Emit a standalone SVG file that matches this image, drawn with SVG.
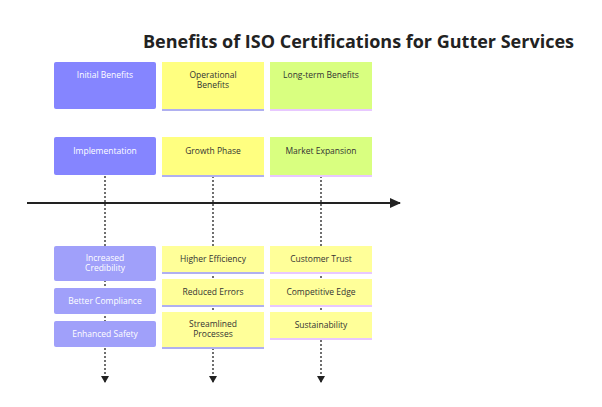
<svg xmlns="http://www.w3.org/2000/svg" width="602" height="407" viewBox="0 0 602 407">
<defs>
<style>
text{font-family:"Open Sans","DejaVu Sans",sans-serif;font-size:8.5px;text-anchor:middle}
.w{fill:#ffffff}.d{fill:#333333}
.p{fill:#8585ff}.pl{fill:#a0a0fa}.y{fill:#ffff80}.yl{fill:#ffff99}.g{fill:#d9ff80}
.bp{stroke:#f0e8ff;stroke-width:2}.by{stroke:#b0b0f0;stroke-width:2}.bg{stroke:#e8c8ff;stroke-width:2}
.dash{stroke:#222;stroke-width:1.3;stroke-dasharray:2 2;fill:none}
</style>
<marker id="ah" markerWidth="8" markerHeight="8" refX="6" refY="4" orient="auto" markerUnits="userSpaceOnUse"><path d="M0,0L7,4L0,8Z" fill="#222"/></marker>
<marker id="big" markerWidth="12" markerHeight="10" refX="10" refY="5" orient="auto" markerUnits="userSpaceOnUse"><path d="M0,0L11,5L0,10Z" fill="#222"/></marker>
</defs>
<rect width="602" height="407" fill="#fff"/>
<text x="574" y="48" style="font-size:18px;font-weight:bold;text-anchor:end;fill:#222">Benefits of ISO Certifications for Gutter Services</text>
<g id="connectors">
<line x1="27" y1="203" x2="400" y2="203" stroke="#222" stroke-width="2" marker-end="url(#big)"/>
<line class="dash" x1="105" y1="176" x2="105" y2="382" marker-end="url(#ah)"/>
<line class="dash" x1="213" y1="176" x2="213" y2="382" marker-end="url(#ah)"/>
<line class="dash" x1="321" y1="176" x2="321" y2="382" marker-end="url(#ah)"/>
</g>
<g id="h1"><rect class="p" x="54" y="62" width="102" height="47" rx="2"/><text class="w" x="105" y="78">Initial Benefits</text></g>
<g id="h2"><rect class="y" x="162" y="62" width="102" height="47"/><line class="by" x1="162" y1="110" x2="264" y2="110"/><text class="d" x="213" y="78">Operational</text><text class="d" x="213" y="88">Benefits</text></g>
<g id="h3"><rect class="g" x="270" y="62" width="102" height="47"/><line class="bg" x1="270" y1="110" x2="372" y2="110"/><text class="d" x="321" y="78">Long-term Benefits</text></g>
<g id="p1"><rect class="p" x="54" y="137" width="102" height="38" rx="2"/><text class="w" x="105" y="154">Implementation</text></g>
<g id="p2"><rect class="y" x="162" y="137" width="102" height="38"/><line class="by" x1="162" y1="176" x2="264" y2="176"/><text class="d" x="213" y="154">Growth Phase</text></g>
<g id="p3"><rect class="g" x="270" y="137" width="102" height="38"/><line class="bg" x1="270" y1="176" x2="372" y2="176"/><text class="d" x="321" y="154">Market Expansion</text></g>
<g id="a1"><rect class="pl" x="54" y="246" width="102" height="35" rx="2"/><text class="w" x="105" y="261">Increased</text><text class="w" x="105" y="271">Credibility</text></g>
<g id="a2"><rect class="pl" x="54" y="288" width="102" height="26" rx="2"/><text class="w" x="105" y="304">Better Compliance</text></g>
<g id="a3"><rect class="pl" x="54" y="321" width="102" height="26" rx="2"/><text class="w" x="105" y="337">Enhanced Safety</text></g>
<g id="b1"><rect class="yl" x="162" y="246" width="102" height="26"/><line class="by" x1="162" y1="273" x2="264" y2="273"/><text class="d" x="213" y="262">Higher Efficiency</text></g>
<g id="b2"><rect class="yl" x="162" y="279" width="102" height="26"/><line class="by" x1="162" y1="306" x2="264" y2="306"/><text class="d" x="213" y="295">Reduced Errors</text></g>
<g id="b3"><rect class="yl" x="162" y="312" width="102" height="35"/><line class="by" x1="162" y1="348" x2="264" y2="348"/><text class="d" x="213" y="327">Streamlined</text><text class="d" x="213" y="337">Processes</text></g>
<g id="c1"><rect class="yl" x="270" y="246" width="102" height="26"/><line class="bg" x1="270" y1="273" x2="372" y2="273"/><text class="d" x="321" y="262">Customer Trust</text></g>
<g id="c2"><rect class="yl" x="270" y="279" width="102" height="26"/><line class="bg" x1="270" y1="306" x2="372" y2="306"/><text class="d" x="321" y="295">Competitive Edge</text></g>
<g id="c3"><rect class="yl" x="270" y="312" width="102" height="26"/><line class="bg" x1="270" y1="339" x2="372" y2="339"/><text class="d" x="321" y="328">Sustainability</text></g>
</svg>
